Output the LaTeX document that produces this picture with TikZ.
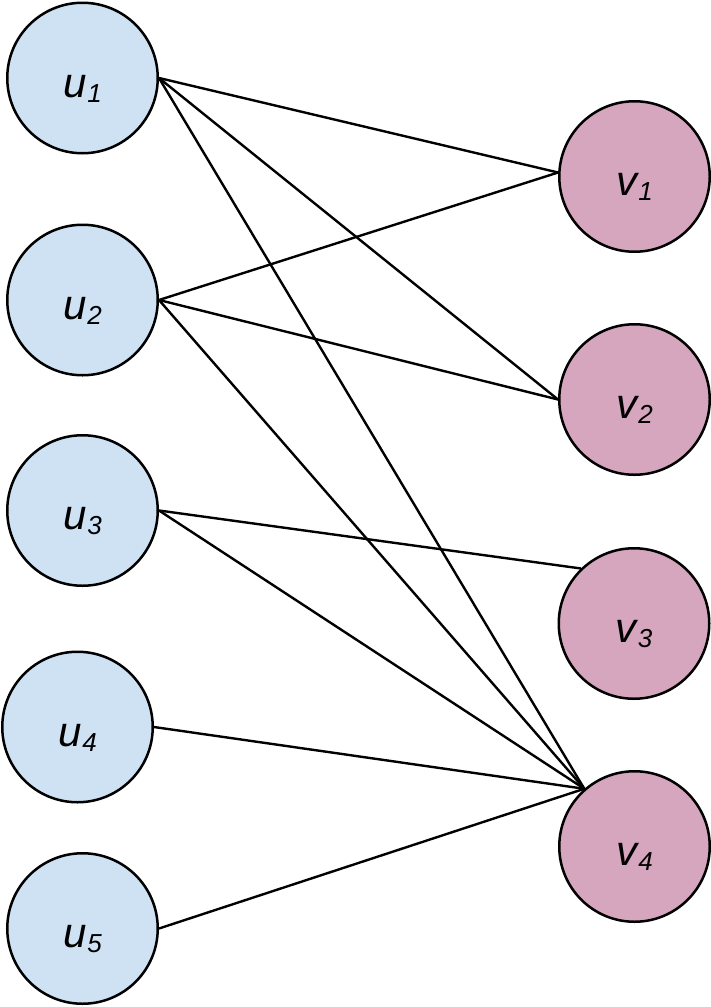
\documentclass[tikz,border=0pt]{standalone}
\usepackage{fontspec}
\setmainfont{Liberation Sans}
\definecolor{ublue}{HTML}{CFE2F3}
\definecolor{vpink}{HTML}{D5A6BD}
\newcommand{\vlab}[2]{{\fontsize{42}{42}\selectfont\itshape #1\hspace{1pt}\raisebox{-5pt}{\fontsize{26}{26}\selectfont #2}}}
\begin{document}
\begin{tikzpicture}[x=1pt,y=-1pt,
  vert/.style={circle,draw=black,line width=2.5pt,minimum size=150.5pt,inner sep=0pt,text height=38pt,text depth=0pt},
  uvert/.style={vert,fill=ublue},
  vvert/.style={vert,fill=vpink},
  edge/.style={draw=black,line width=2.4pt}]
\useasboundingbox (0,0) rectangle (711,1007);
\node[uvert] (u1) at (82.5,78) {\vlab{u}{1}};
\node[uvert] (u2) at (82.5,300) {\vlab{u}{2}};
\node[uvert] (u3) at (82.5,510.5) {\vlab{u}{3}};
\node[uvert] (u4) at (77.5,727) {\vlab{u}{4}};
\node[uvert] (u5) at (82.5,928.5) {\vlab{u}{5}};
\node[vvert] (v1) at (634.5,176.5) {\vlab{v}{1}};
\node[vvert] (v2) at (634.5,399.5) {\vlab{v}{2}};
\node[vvert] (v3) at (634,623.5) {\vlab{v}{3}};
\node[vvert] (v4) at (634.5,846.5) {\vlab{v}{4}};
\draw[edge] (u1.east) -- (v1.177);
\draw[edge] (u1.east) -- (v2.west);
\draw[edge] (u1.east) -- (v4.131);
\draw[edge] (u2.east) -- (v1.177);
\draw[edge] (u2.east) -- (v2.west);
\draw[edge] (u2.east) -- (v4.131);
\draw[edge] (u3.east) -- (v3.134);
\draw[edge] (u3.east) -- (v4.131);
\draw[edge] (u4.east) -- (v4.131);
\draw[edge] (u5.east) -- (v4.131);
\end{tikzpicture}
\end{document}
